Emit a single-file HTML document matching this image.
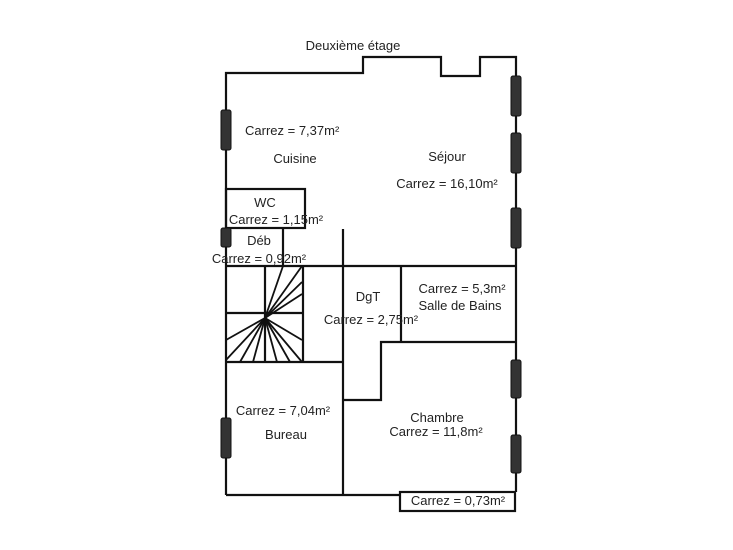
<!DOCTYPE html>
<html><head><style>
body{margin:0;background:#fff;}
svg{display:block}
text{font-family:"Liberation Sans",sans-serif;font-size:13px;fill:#222;}
</style></head><body>
<svg width="733" height="550" viewBox="0 0 733 550">
<g stroke="#111" stroke-width="2.2" fill="none">
<polyline points="226,495 226,73 363,73 363,57 441,57 441,76 480,76 480,57 516,57 516,492"/>
<line x1="226" y1="495" x2="400" y2="495"/>
<rect x="400" y="492" width="115" height="19"/>
<rect x="226" y="189" width="79" height="39"/>
<line x1="283" y1="228" x2="283" y2="266"/>
<line x1="226" y1="266" x2="516" y2="266"/>
<line x1="343" y1="229" x2="343" y2="495"/>
<line x1="401" y1="266" x2="401" y2="342"/>
<polyline points="516,342 381,342 381,400 343,400"/>
<line x1="226" y1="362" x2="343" y2="362"/>
<line x1="303" y1="266" x2="303" y2="362"/>
<line x1="265" y1="266" x2="265" y2="362"/>
<line x1="226" y1="313" x2="303" y2="313"/>
</g>
<g stroke="#111" stroke-width="1.8">
<line x1="265" y1="318" x2="283" y2="266"/>
<line x1="265" y1="318" x2="302" y2="266"/>
<line x1="265" y1="318" x2="302" y2="282"/>
<line x1="265" y1="318" x2="302" y2="294"/>
<line x1="265" y1="318" x2="302" y2="340"/>
<line x1="265" y1="318" x2="302" y2="362"/>
<line x1="265" y1="318" x2="290" y2="362"/>
<line x1="265" y1="318" x2="277" y2="362"/>
<line x1="265" y1="318" x2="253" y2="362"/>
<line x1="265" y1="318" x2="240" y2="362"/>
<line x1="265" y1="318" x2="226" y2="340"/>
<line x1="265" y1="318" x2="226" y2="360"/>
</g>
<g fill="#333" stroke="#111" stroke-width="1">
<rect x="221" y="110" width="10" height="40" rx="2"/>
<rect x="221" y="228" width="10" height="19" rx="2"/>
<rect x="221" y="418" width="10" height="40" rx="2"/>
<rect x="511" y="76" width="10" height="40" rx="2"/>
<rect x="511" y="133" width="10" height="40" rx="2"/>
<rect x="511" y="208" width="10" height="40" rx="2"/>
<rect x="511" y="360" width="10" height="38" rx="2"/>
<rect x="511" y="435" width="10" height="38" rx="2"/>
</g>
<text x="353" y="50" text-anchor="middle">Deuxième étage</text>
<text x="245" y="135">Carrez = 7,37m²</text>
<text x="295" y="163" text-anchor="middle">Cuisine</text>
<text x="447" y="161" text-anchor="middle">Séjour</text>
<text x="447" y="188" text-anchor="middle">Carrez = 16,10m²</text>
<text x="265" y="207" text-anchor="middle">WC</text>
<text x="276" y="224" text-anchor="middle">Carrez = 1,15m²</text>
<text x="259" y="245" text-anchor="middle">Déb</text>
<text x="259" y="263" text-anchor="middle">Carrez = 0,92m²</text>
<text x="368" y="301" text-anchor="middle">DgT</text>
<text x="371" y="324" text-anchor="middle">Carrez = 2,75m²</text>
<text x="462" y="293" text-anchor="middle">Carrez = 5,3m²</text>
<text x="460" y="310" text-anchor="middle">Salle de Bains</text>
<text x="283" y="415" text-anchor="middle">Carrez = 7,04m²</text>
<text x="286" y="439" text-anchor="middle">Bureau</text>
<text x="437" y="422" text-anchor="middle">Chambre</text>
<text x="436" y="436" text-anchor="middle">Carrez = 11,8m²</text>
<text x="458" y="505" text-anchor="middle">Carrez = 0,73m²</text>
</svg>
</body></html>
